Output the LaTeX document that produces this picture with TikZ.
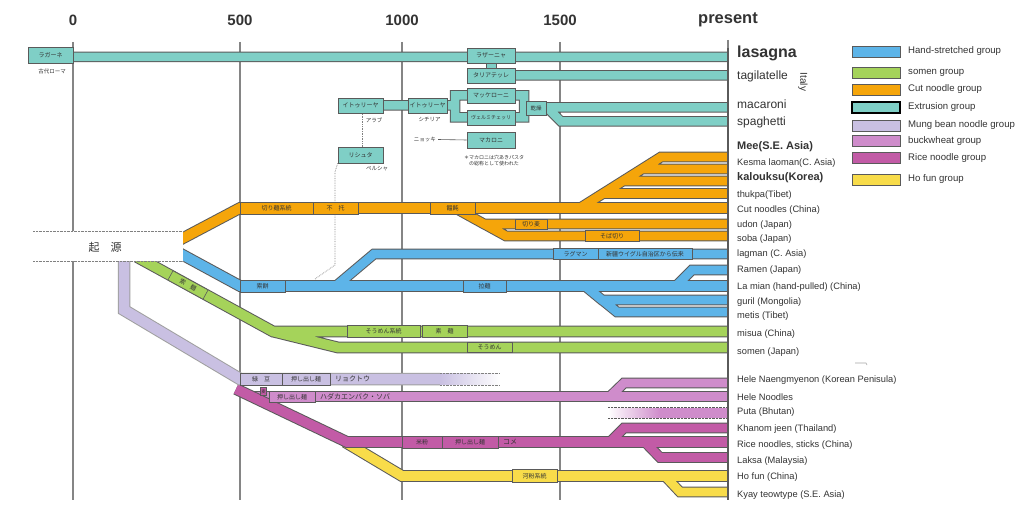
\documentclass[tikz,border=0pt]{standalone}
\usepackage{fontspec}
\setmainfont{Liberation Sans}
\newfontfamily\cjk{Noto Sans CJK JP}
\definecolor{cBlue}{HTML}{5DB4E8}
\definecolor{cGreen}{HTML}{A5D35A}
\definecolor{cOrange}{HTML}{F5A50A}
\definecolor{cTeal}{HTML}{7FCFC6}
\definecolor{cMung}{HTML}{C9C0E2}
\definecolor{cBuck}{HTML}{CF8CCB}
\definecolor{cRice}{HTML}{C25BA6}
\definecolor{cYellow}{HTML}{F8DC4A}
\definecolor{cEdge}{HTML}{5A5A5A}
\definecolor{cAxis}{HTML}{858585}
\definecolor{cText}{HTML}{333333}
\begin{document}
\begin{tikzpicture}[x=1pt,y=-1pt,
  bout/.style={line width=11.8, draw=cEdge},
  bin/.style={line width=9.8, draw=#1},
  brout/.style={line width=10.8, draw=cEdge},
  brin/.style={line width=8.8, draw=#1},
  tout/.style={line width=10.5, draw=cEdge},
  tin/.style={line width=8.5, draw=cTeal},
  lb/.style={draw=cEdge, line width=0.6, inner sep=0pt, text=cText,
     font=\cjk\fontsize{6}{6}\selectfont, minimum height=#1},
  small/.style={inner sep=0pt, text=cText, font=\cjk\fontsize{5.5}{6}\selectfont},
  year/.style={inner sep=0pt, text=cText, font=\bfseries\fontsize{15}{15}\selectfont},
  rl/.style={anchor=west, inner sep=0pt, text=cText, font=\fontsize{9.3}{10}\selectfont},
  lg/.style={anchor=west, inner sep=0pt, text=cText, font=\fontsize{9.6}{10}\selectfont},
  sw/.style={draw=cEdge, line width=0.8},
  axis/.style={draw=cAxis, line width=1.1}
]
\useasboundingbox (0,0) rectangle (1024,529);
\fill[white] (0,0) rectangle (1024,529);

% axis
\node[year] (y0) at (73,20) {0};
\node[year] (y500) at (240,20) {500};
\node[year] (y1000) at (402,20) {1000};
\node[year] (y1500) at (560,20) {1500};
\node[year, font=\bfseries\fontsize{16.5}{16.5}\selectfont] (ypres) at (728,20) {present};
\draw[axis] (73,42) -- (73,500) (240,42) -- (240,500) (402,42) -- (402,500) (560,42) -- (560,500) (728,40) -- (728,500);

% ---------- extrusion (teal)
\draw[tout] (70,57) -- (728,57)  (515,75.5) -- (728,75.5)
  (383,105.5) -- (447,105.5) -- (455,105.5)
  (467,95.5) -- (455,95.5) -- (455,117.5) -- (467,117.5)
  (515,95.5) -- (524,95.5) -- (524,117.5) -- (515,117.5)
  (524,107.5) -- (728,107.5)
  (535,107.5) -- (547,107.5) -- (561,121.5) -- (728,121.5);
\draw[tin] (70,57) -- (728,57)  (515,75.5) -- (728,75.5)
  (383,105.5) -- (447,105.5) -- (455,105.5)
  (467,95.5) -- (455,95.5) -- (455,117.5) -- (467,117.5)
  (515,95.5) -- (524,95.5) -- (524,117.5) -- (515,117.5)
  (524,107.5) -- (728,107.5)
  (535,107.5) -- (547,107.5) -- (561,121.5) -- (728,121.5);
\filldraw[fill=cTeal, draw=cEdge, line width=0.6] (486,62) rectangle (496,69);

% ---------- orange
\draw[bout] (170,245) -- (240,208) -- (728,208);
\draw[brout] (580,208) -- (661,157) -- (728,157)
  (580,208) -- (642,169) -- (728,169)
  (580,208) -- (623,181) -- (728,181)
  (580,208) -- (603,193.5) -- (728,193.5)
  (455,208) -- (484,224) -- (728,224)
  (455,208) -- (506,236) -- (728,236);
\draw[bin=cOrange] (170,245) -- (240,208) -- (728,208);
\draw[brin=cOrange] (580,208) -- (661,157) -- (728,157)
  (580,208) -- (642,169) -- (728,169)
  (580,208) -- (623,181) -- (728,181)
  (580,208) -- (603,193.5) -- (728,193.5)
  (455,208) -- (484,224) -- (728,224)
  (455,208) -- (506,236) -- (728,236);

% ---------- blue
\draw[bout] (170,248) -- (240,286) -- (728,286);
\draw[brout] (336,286) -- (374,254) -- (728,254)
  (676,286) -- (692,270) -- (728,270)
  (585,286) -- (602,300) -- (728,300)
  (585,286) -- (617,312) -- (728,312);
\draw[bin=cBlue] (170,248) -- (240,286) -- (728,286);
\draw[brin=cBlue] (336,286) -- (374,254) -- (728,254)
  (676,286) -- (692,270) -- (728,270)
  (585,286) -- (602,300) -- (728,300)
  (585,286) -- (617,312) -- (728,312);

% ---------- green
\draw[bout] (137,257) -- (273,331.5) -- (728,331.5)
  (137,257) -- (273,331.5) -- (338,347.5) -- (728,347.5);
\draw[bin=cGreen] (137,257) -- (273,331.5) -- (728,331.5)
  (137,257) -- (273,331.5) -- (338,347.5) -- (728,347.5);

% ---------- buckwheat
\draw[bout] (250,396.5) -- (728,396.5);
\draw[brout] (610,396.5) -- (624,383) -- (728,383);
\draw[bin=cBuck] (250,396.5) -- (728,396.5);
\draw[brin=cBuck] (610,396.5) -- (624,383) -- (728,383);
\shade[left color=white, right color=cBuck] (608,408.25) rectangle (660,417.75);
\fill[cBuck] (660,408.25) rectangle (728,417.75);
\draw[densely dotted, cEdge] (608,407.5) -- (728,407.5) (608,418.5) -- (728,418.5);

% ---------- ho fun (yellow)
\draw[bout] (345,442) -- (402,476) -- (728,476);
\draw[brout] (665,476) -- (680,492) -- (728,492);
\draw[bin=cYellow] (345,442) -- (402,476) -- (728,476);
\draw[brin=cYellow] (665,476) -- (680,492) -- (728,492);

% ---------- rice
\draw[bout] (236,389) -- (347,442) -- (728,442);
\draw[brout] (610,442) -- (624,428) -- (728,428)
  (645,442) -- (660,457.5) -- (728,457.5);
\draw[bin=cRice] (236,389) -- (347,442) -- (728,442);
\draw[brin=cRice] (610,442) -- (624,428) -- (728,428)
  (645,442) -- (660,457.5) -- (728,457.5);

% ---------- mung bean
\draw[line width=12.5, draw=gray!75] (124,245) -- (124,310) -- (240,379) -- (440,379);
\draw[line width=10.5, draw=cMung] (124,245) -- (124,310) -- (240,379) -- (440,379);
\shade[left color=cMung, right color=white] (440,373.75) rectangle (500,384.25);
\draw[densely dotted, gray] (440,372.9) -- (500,372.9) (440,385.1) -- (500,385.1);

% present line on top of bar ends
\draw[cEdge, line width=1.2] (728,48) -- (728,500);

% ---------- start box
\node[fill=white, minimum width=150, minimum height=29.5, inner sep=0pt] (origin) at (108,246) {};
\draw[densely dotted, gray] (33,231) -- (183,231) (33,261) -- (183,261);
\node[inner sep=0pt, text=cText, font=\cjk\fontsize{11}{11}\selectfont] (originTxt) at (105,247) {起　源};

% ---------- teal label boxes
\node[lb=16, fill=cTeal, minimum width=45] (lagane) at (50.5,55.5) {ラガーネ};
\node[small] (rome) at (52,71) {古代ローマ};
\node[lb=15, fill=cTeal, minimum width=48] (lasBox) at (491,55.5) {ラザーニャ};
\node[lb=15, fill=cTeal, minimum width=48] (tagBox) at (491,75.5) {タリアテッレ};
\node[lb=15, fill=cTeal, minimum width=45] (itr1) at (360.5,105.5) {イトゥリーヤ};
\node[small] (arab) at (374,120) {アラブ};
\node[lb=15, fill=cTeal, minimum width=39] (itr2) at (427.5,105.5) {イトゥリーヤ};
\node[small] (sicily) at (429.5,120) {シチリア};
\node[lb=15, fill=cTeal, minimum width=48] (macBox) at (491,95.5) {マッケローニ};
\node[lb=15, fill=cTeal, minimum width=48, font=\cjk\fontsize{5}{5}\selectfont] (verBox) at (491,117.5) {ヴェルミチェッリ};
\node[lb=14, fill=cTeal, minimum width=20, font=\cjk\fontsize{5.5}{5.5}\selectfont] (dry) at (536,108) {乾燥};
\node[lb=16, fill=cTeal, minimum width=48] (macaroni) at (491,140) {マカロニ};
\node[small, anchor=east] (gnocchi) at (436,139.5) {ニョッキ};
\draw[cEdge, line width=0.6] (gnocchi.east) ++(2,0) -- (macaroni.west);
\node[small, align=center, font=\cjk\fontsize{5}{6}\selectfont] (note) at (494,160.5) {＊マカロニは穴あきパスタ\\の総称として使われた};
\node[lb=16, fill=cTeal, minimum width=45] (rishta) at (360.5,155) {リシュタ};
\node[small] (persia) at (377,169) {ペルシャ};
\coordinate (rjoin) at (315,279);
\draw[densely dotted, gray, line width=0.7] (362,114) -- (rishta.north -| 362,0);
\draw[densely dotted, gray, line width=0.7] (rishta.south west) -- (335,172) -- (335,265) -- (rjoin);

% ---------- orange labels
\node[lb=12, fill=cOrange, minimum width=73] (cutSys) at (276.5,208) {切り麺系統};
\node[lb=12, fill=cOrange, minimum width=45] (butuo) at (335.5,208) {不　托};
\node[lb=12, fill=cOrange, minimum width=45] (udonOld) at (452.5,208) {饂飩};
\node[lb=10, fill=cOrange, minimum width=32] (kirimugi) at (531,224) {切り麦};
\node[lb=11, fill=cOrange, minimum width=54] (sobakiri) at (612,236) {そば切り};

% ---------- blue labels
\node[lb=12, fill=cBlue, minimum width=45] (sakubei) at (262.5,286) {索餅};
\node[lb=12, fill=cBlue, minimum width=43] (lamianBox) at (484.5,286) {拉麺};
\node[lb=11, fill=cBlue, minimum width=45] (lagBox) at (575.5,254) {ラグマン};
\node[lb=11, fill=cBlue, minimum width=94] (lagBox2) at (645,254) {新疆ウイグル自治区から伝来};

% ---------- green labels
\node[lb=10.5, fill=cGreen, minimum width=40, rotate=-28.7] (sakumen) at (188,285) {索　麺};
\node[lb=12, fill=cGreen, minimum width=73] (somenSys) at (383.5,331.5) {そうめん系統};
\node[lb=12, fill=cGreen, minimum width=45] (somenOld) at (444.5,331.5) {素　麺};
\node[lb=10.5, fill=cGreen, minimum width=45] (somenBox) at (489.5,347.5) {そうめん};

% ---------- mung / buckwheat / rice / ho fun labels
\node[lb=12, fill=cMung, minimum width=42] (mung1) at (261,379) {緑　豆};
\node[lb=12, fill=cMung, minimum width=48] (mung2) at (306,379) {押し出し麺};
\node[small, anchor=west, font=\cjk\fontsize{7}{7}\selectfont] (mung3) at (335,379) {リョクトウ};
\node[lb=8, fill=cRice, minimum width=6, font=\cjk\fontsize{4.5}{4.5}\selectfont] (mugi) at (263.5,391.5) {麦};
\node[lb=11, fill=cBuck, minimum width=46] (buck1) at (292,397) {押し出し麺};
\node[small, anchor=west, font=\cjk\fontsize{7}{7}\selectfont] (buck2) at (320,397) {ハダカエンバク・ソバ};
\node[lb=12, fill=cRice, minimum width=40] (rice1) at (422,442) {米粉};
\node[lb=12, fill=cRice, minimum width=56] (rice2) at (470,442) {押し出し麺};
\node[small, anchor=west, font=\cjk\fontsize{7}{7}\selectfont] (rice3) at (503,442) {コメ};
\node[lb=13, fill=cYellow, minimum width=45] (hofunBox) at (534.5,476) {河粉系統};

% ---------- right labels
\node[rl, font=\bfseries\fontsize{16}{16}\selectfont] (tLas) at (737,53) {lasagna};
\node[rl, font=\fontsize{12}{12}\selectfont] (tTag) at (737,76) {tagilatelle};
\node[inner sep=0pt, text=cText, rotate=-90, font=\fontsize{10}{10}\selectfont] (tItaly) at (803,82) {Italy};
\node[rl, font=\fontsize{12}{12}\selectfont] (tMac) at (737,104) {macaroni};
\node[rl, font=\fontsize{12}{12}\selectfont] (tSpa) at (737,122) {spaghetti};
\node[rl, font=\bfseries\fontsize{11}{11}\selectfont] (tMee) at (737,147) {Mee(S.E. Asia)};
\node[rl, font=\fontsize{9.3}{10}\selectfont] (tKes) at (737,163) {Kesma laoman(C. Asia)};
\node[rl, font=\bfseries\fontsize{11}{11}\selectfont] (tKal) at (737,178) {kalouksu(Korea)};
\node[rl, font=\fontsize{9.3}{10}\selectfont] (tThu) at (737,195) {thukpa(Tibet)};
\node[rl] (tCut) at (737,210) {Cut noodles (China)};
\node[rl] (tUdon) at (737,225) {udon (Japan)};
\node[rl] (tSoba) at (737,239) {soba (Japan)};
\node[rl] (tLag) at (737,254) {lagman (C. Asia)};
\node[rl] (tRam) at (737,270) {Ramen (Japan)};
\node[rl] (tLam) at (737,287) {La mian (hand-pulled) (China)};
\node[rl] (tGur) at (737,302) {guril (Mongolia)};
\node[rl] (tMet) at (737,316) {metis (Tibet)};
\node[rl] (tMis) at (737,334) {misua (China)};
\node[rl] (tSom) at (737,352) {somen (Japan)};
\node[rl] (tHel1) at (737,380) {Hele Naengmyenon (Korean Penisula)};
\node[rl] (tHel2) at (737,397) {Hele Noodles};
\node[rl] (tPuta) at (737,412) {Puta (Bhutan)};
\node[rl] (tKha) at (737,429) {Khanom jeen (Thailand)};
\node[rl] (tRice) at (737,445) {Rice noodles, sticks (China)};
\node[rl] (tLak) at (737,461) {Laksa (Malaysia)};
\node[rl] (tHof) at (737,477) {Ho fun (China)};
\node[rl] (tKya) at (737,495) {Kyay teowtype (S.E. Asia)};
\draw[gray!70, line width=0.6] (855,363) -- (866,363) -- (867,365);

% ---------- legend
\filldraw[sw, fill=cBlue] (852,46) rectangle (900,57);
\node[lg] (lgBlue) at (908,51.5) {Hand-stretched group};
\filldraw[sw, fill=cGreen] (852,67) rectangle (900,78);
\node[lg] (lgGreen) at (908,72.5) {somen group};
\filldraw[sw, fill=cOrange] (852,84) rectangle (900,95);
\node[lg] (lgOrange) at (908,89.5) {Cut noodle group};
\filldraw[draw=black, line width=1.8, fill=cTeal] (852,102) rectangle (900,113);
\node[lg] (lgTeal) at (908,107.5) {Extrusion group};
\filldraw[sw, fill=cMung] (852,120) rectangle (900,131);
\node[lg] (lgMung) at (908,125.5) {Mung bean noodle group};
\filldraw[sw, fill=cBuck] (852,135.5) rectangle (900,146);
\node[lg] (lgBuck) at (908,141) {buckwheat group};
\filldraw[sw, fill=cRice] (852,152.5) rectangle (900,163.5);
\node[lg] (lgRice) at (908,158) {Rice noodle group};
\filldraw[sw, fill=cYellow] (852,174) rectangle (900,185);
\node[lg] (lgYellow) at (908,179.5) {Ho fun group};
\end{tikzpicture}
\end{document}
